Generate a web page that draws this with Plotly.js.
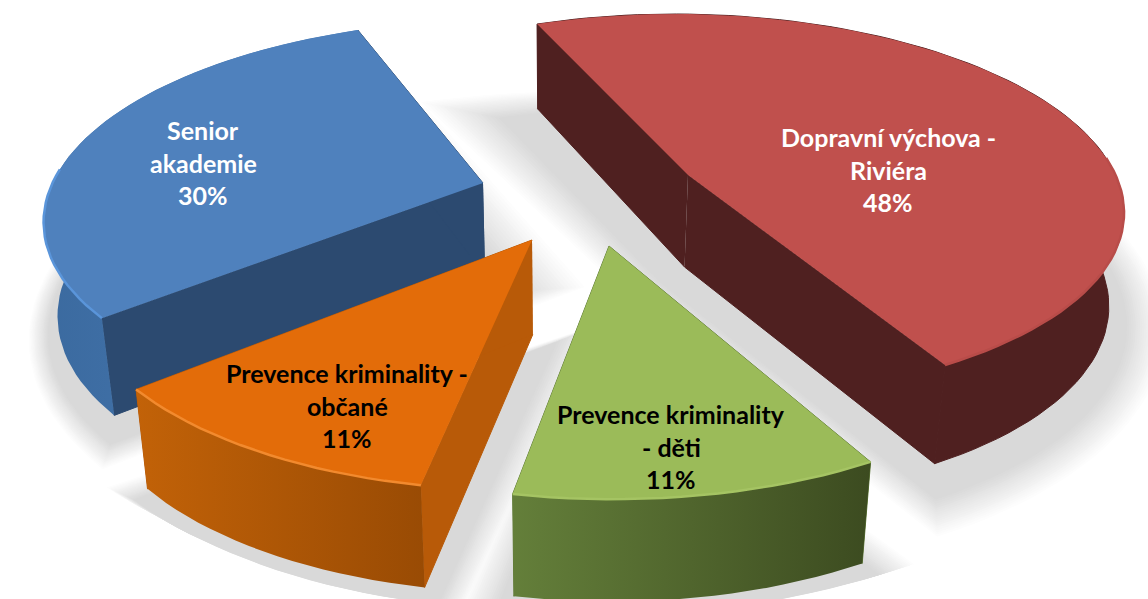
<!DOCTYPE html>
<html><head><meta charset="utf-8">
<script src="https://cdn.plot.ly/plotly-3.0.1.min.js"></script>
<style>html,body{margin:0;padding:0;background:#fff}#c{width:1148px;height:599px}</style>
</head><body><div id="c"></div>
<script>
// --- data ---
var categories = ["Dopravní výchova - Riviéra", "Prevence kriminality - děti", "Prevence kriminality - občané", "Senior akademie"];
var values = [48, 11, 11, 30];
var labelLines = [["Dopravní výchova -", "Riviéra"], ["Prevence kriminality", "- děti"], ["Prevence kriminality -", "občané"], ["Senior", "akademie"]];

// --- camera (perspective of the tilted pie) ---
var cam = {cx: 590, horizon: -992, D: 6, F: 2565, G: 7000, wallA: 140, wallB: 8, depth: 0.96, start: -21.8, floorCx: 560, floorScale: 0.973};
// --- per slice look, same order as data ---
var look = [
 {apex:[688,175], top:"#c0504d", rim:"#b84c49", side:"#4f2020", wall:["#4f2020","#4f2020"], text:"#ffffff", at:[888,137]},
 {apex:[609,246], top:"#9bbb59", rim:"#a5c463", side:"#5f7a37", wall:["#647f3a","#3c4b20"], text:"#000000", at:[671,414]},
 {apex:[532,240], top:"#e36c09", rim:"#f28a2e", side:"#b85a08", wall:["#c26208","#994b04"], text:"#000000", at:[347,373]},
 {apex:[483,183], top:"#4f81bd", rim:"#5a95da", side:"#2c4a70", wall:["#4a7db8","#3b6a9f"], text:"#ffffff", at:[203,130]}
];
var drawOrder = [0,3,2,1];
var lineGap = 32.5;

var total = values.reduce(function(a,b){return a+b},0);
function project(o, deg, r, floor){
  var t = deg*Math.PI/180, X = o.X0 + r*Math.sin(t), Y = o.Y0 + r*cam.depth*Math.cos(t);
  var d = cam.D + Y, px = cam.cx + cam.F*X/d, py = cam.horizon + cam.G/d;
  if(floor){ px = cam.floorCx + (px-cam.floorCx)*cam.floorScale; py += cam.wallA - cam.wallB*d; }
  return [px, py];
}
var slices = [], a = cam.start;
values.forEach(function(v,i){
  var dist = cam.G/(look[i].apex[1]-cam.horizon);
  var o = {Y0: dist-cam.D, X0: (look[i].apex[0]-cam.cx)*dist/cam.F, a0:a, a1:a+v/total*360};
  a = o.a1; slices.push(o);
});
function arc(o, floor){
  var p=[], n=Math.max(8,Math.round((o.a1-o.a0)/2));
  for(var k=0;k<=n;k++) p.push(project(o,o.a0+(o.a1-o.a0)*k/n,1,floor));
  return p;
}
function poly(pts, opts){
  var tr = {type:"scatter", mode:"lines", x:pts.map(function(p){return p&&p[0]}), y:pts.map(function(p){return p&&p[1]}),
    fill:"toself", line:{width:0}, hoverinfo:"skip", showlegend:false};
  for(var k in opts) tr[k]=opts[k];
  return tr;
}
var traces = [];
// soft floor shadow: opaque levels from pale outside to grey inside
var levels = 18;
for(var l=0;l<levels;l++){
  var t=l/(levels-1), grey=Math.round(253-(253-217)*t), pts=[];
  slices.forEach(function(o){
    var ap=project(o,0,0,true), ar=arc(o,true), all=[ap].concat(ar);
    var mx=0,my=0; all.forEach(function(p){mx+=p[0];my+=p[1]}); mx/=all.length; my/=all.length;
    var s=1.3-0.2*t, sUp=1+(s-1)*0.25;
    all.forEach(function(p){pts.push([mx+(p[0]-mx)*s, my+(p[1]-my)*(p[1]<my?sUp:s)+2+10*t])});
    pts.push(null);
  });
  traces.push(poly(pts,{fillcolor:"rgb("+grey+","+grey+","+grey+")"}));
}
// solids
drawOrder.forEach(function(i){
  var o=slices[i], L=look[i];
  var A=project(o,0,0,false), Af=project(o,0,0,true), top=arc(o,false), bot=arc(o,true);
  var seal={width:1,color:L.side};
  // radial walls
  traces.push(poly([A,top[0],bot[0],Af],{fillcolor:L.side,line:seal}));
  traces.push(poly([A,top[top.length-1],bot[bot.length-1],Af],{fillcolor:L.side,line:seal}));
  // outer wall
  var wall=top.concat(bot.slice().reverse());
  var wallOpts={fillcolor:L.wall[0],fillgradient:{type:"horizontal",colorscale:[[0,L.wall[i==3?1:0]],[1,L.wall[i==3?0:1]]]}};
  if(L.wall[0]==L.wall[1]) wallOpts.line=seal;
  traces.push(poly(wall,wallOpts));
  // top face
  traces.push(poly([A].concat(top),{fillcolor:L.top}));
  // bevel only where the rim faces the viewer
  var n=top.length-1, rim=top.filter(function(p,k){return Math.cos((o.a0+(o.a1-o.a0)*k/n)*Math.PI/180)<0.1;});
  traces.push({type:"scatter",mode:"lines",x:rim.map(function(p){return p[0]}),y:rim.map(function(p){return p[1]}),
    line:{color:L.rim,width:2.5},hoverinfo:"skip",showlegend:false});
});
// labels
var annotations=[];
values.forEach(function(v,i){
  labelLines[i].concat([v+"%"]).forEach(function(txt,k){
    annotations.push({x:look[i].at[0],y:look[i].at[1]+k*lineGap,xref:"x",yref:"y",text:txt,showarrow:false,
      xanchor:"center",yanchor:"middle",font:{family:"Lato, 'Open Sans', sans-serif",size:25,color:look[i].text,weight:700}});
  });
});
Plotly.newPlot("c",traces,{
  width:1148,height:599,margin:{l:0,r:0,t:0,b:0},paper_bgcolor:"#fff",plot_bgcolor:"#fff",showlegend:false,
  xaxis:{range:[0,1148],visible:false,fixedrange:true},
  yaxis:{range:[599,0],visible:false,fixedrange:true},
  annotations:annotations
},{displayModeBar:false,staticPlot:true});
</script></body></html>
